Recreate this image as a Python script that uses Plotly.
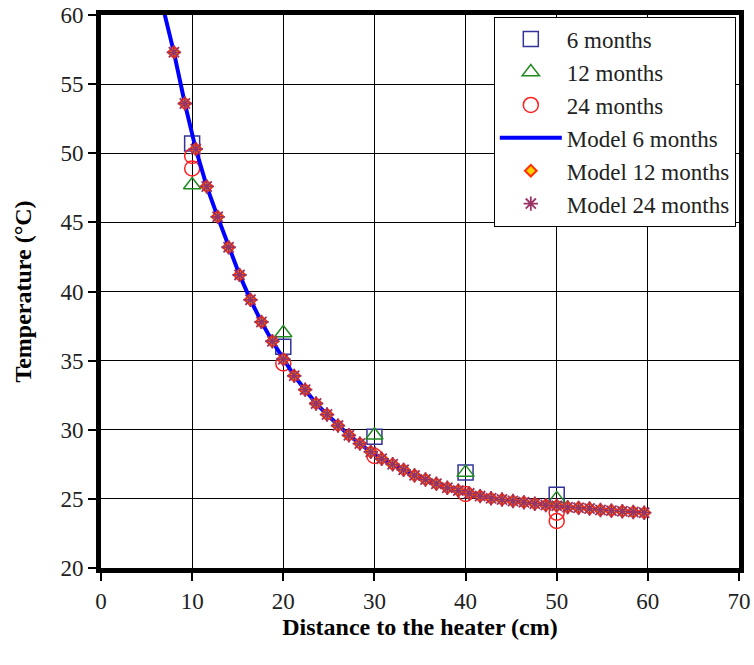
import plotly.graph_objects as go

# Measured data
dist = [10, 20, 30, 40, 50]
t_6m = [50.7, 36.0, 29.5, 26.9, 25.3]
t_12m = [47.7, 37.0, 29.6, 26.9, 25.0]
dist_24m = [10, 10, 20, 30, 40, 50, 50]
t_24m = [49.8, 48.9, 34.8, 28.1, 25.35, 24.0, 23.4]

# Model curve (same for all three periods)
model_x = [8.0, 9.2, 10.4, 11.6, 12.8, 14.0, 15.2, 16.4, 17.6, 18.8,
           20.0, 21.2, 22.4, 23.6, 24.8, 26.0, 27.2, 28.4, 29.6, 30.8,
           32.0, 33.2, 34.4, 35.6, 36.8, 38.0, 39.2, 40.4, 41.6, 42.8,
           44.0, 45.2, 46.4, 47.6, 48.8, 50.0, 51.2, 52.4, 53.6, 54.8,
           56.0, 57.2, 58.4, 59.6]
model_t = [57.3, 53.6, 50.3, 47.6, 45.4, 43.2, 41.2, 39.4, 37.8, 36.4,
           35.1, 33.9, 32.9, 31.9, 31.1, 30.3, 29.6, 29.0, 28.4, 27.9,
           27.5, 27.1, 26.7, 26.4, 26.1, 25.8, 25.6, 25.4, 25.2, 25.05,
           24.95, 24.85, 24.75, 24.65, 24.55, 24.5, 24.4, 24.35, 24.3, 24.2,
           24.15, 24.1, 24.05, 24.0]
line_x = [6.6, 7.0] + model_x
line_t = [62.0, 60.0] + model_t

x_ticks = [0, 10, 20, 30, 40, 50, 60, 70]
y_ticks = [20, 25, 30, 35, 40, 45, 50, 55, 60]

serif = "Liberation Serif"

fig = go.Figure()
fig.add_trace(go.Scatter(x=dist, y=t_6m, mode="markers", name="6 months",
                         marker=dict(symbol="square-open", size=15, color="#33339A",
                                     line=dict(width=1.5))))
fig.add_trace(go.Scatter(x=dist, y=t_12m, mode="markers", name="12 months",
                         marker=dict(symbol="triangle-up-open", size=15, color="#1E8B1E",
                                     line=dict(width=1.5))))
fig.add_trace(go.Scatter(x=dist_24m, y=t_24m, mode="markers", name="24 months",
                         marker=dict(symbol="circle-open", size=15, color="#FF2020",
                                     line=dict(width=1.5))))
fig.add_trace(go.Scatter(x=line_x, y=line_t, mode="lines", name="Model 6 months",
                         line=dict(color="#0000FF", width=4)))
fig.add_trace(go.Scatter(x=model_x, y=model_t, mode="markers", name="Model 12 months",
                         marker=dict(symbol="diamond", size=9, color="#FFD000",
                                     line=dict(color="#FF3000", width=2))))
fig.add_trace(go.Scatter(x=model_x, y=model_t, mode="markers", name="Model 24 months",
                         marker=dict(symbol="asterisk-open", size=12, color="#993366",
                                     line=dict(color="#993366", width=1.8))))

fig.update_layout(
    width=754, height=665,
    margin=dict(l=101, r=15, t=15, b=97),
    plot_bgcolor="white", paper_bgcolor="white",
    font=dict(family=serif, color="black", size=23),
    showlegend=True,
    legend=dict(x=0.995, y=0.997, xanchor="right", yanchor="top",
                bgcolor="white", bordercolor="black", borderwidth=1,
                font=dict(family=serif, size=23, color="#222222"),
                itemwidth=62, tracegroupgap=0),
)
fig.update_xaxes(range=[0, 70], tickvals=x_ticks, ticktext=[str(v) for v in x_ticks],
                 showgrid=True, gridcolor="black", gridwidth=1,
                 showline=True, linecolor="black", linewidth=5, mirror=True,
                 ticks="outside", ticklen=8, tickwidth=1.5, tickcolor="black",
                 zeroline=False, automargin=False,
                 tickfont=dict(family=serif, size=23, color="#222222"),
                 title=dict(text="<b>Distance to the heater (cm)</b>", standoff=6,
                            font=dict(family=serif, size=24)))
fig.update_yaxes(range=[20, 60], tickvals=y_ticks, ticktext=[str(v) for v in y_ticks],
                 showgrid=True, gridcolor="black", gridwidth=1,
                 showline=True, linecolor="black", linewidth=5, mirror=True,
                 ticks="outside", ticklen=8, tickwidth=1.5, tickcolor="black",
                 zeroline=False, automargin=False,
                 tickfont=dict(family=serif, size=23, color="#222222"),
                 title=dict(text="<b>Temperature (°C)</b>", standoff=24,
                            font=dict(family=serif, size=24)))

fig.write_html("out.html")
